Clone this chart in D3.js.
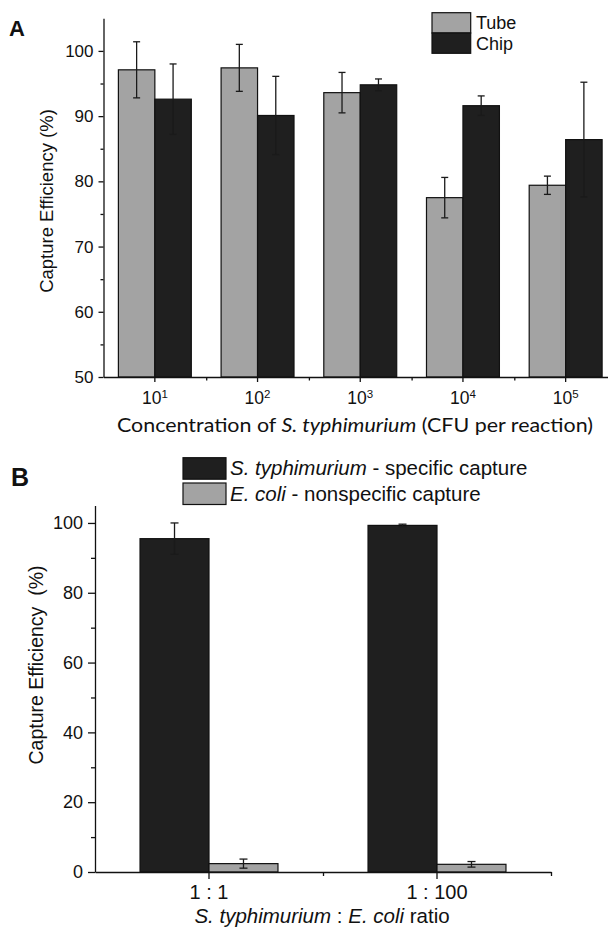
<!DOCTYPE html>
<html>
<head>
<meta charset="utf-8">
<script src="https://cdn.jsdelivr.net/npm/d3@7"></script>
<style>
  body { margin: 0; background: #fff; }
  svg text { fill: #111; }
</style>
</head>
<body>
<div id="chart"></div>
<script>
// ---------------- datos panel A ----------------
const exponents = ["1", "2", "3", "4", "5"];
const seriesA = ["Tube", "Chip"];
const tubeMean = [97.1, 97.4, 93.6, 77.5, 79.4];
const tubeErr = [4.3, 3.6, 3.1, 3.1, 1.4];
const chipMean = [92.6, 90.1, 94.8, 91.6, 86.4];
const chipErr = [5.4, 6.0, 0.9, 1.5, 8.8];
const ticksA = [50, 60, 70, 80, 90, 100];
const minorTicksA = [55, 65, 75, 85, 95];

// ---------------- datos panel B ----------------
const ratios = ["1 : 1", "1 : 100"];
const seriesB = ["S. typhimurium", "E. coli"];
const specificMean = [95.5, 99.3];
const specificErr = [4.5, 0.35];
const nonspecificMean = [2.4, 2.2];
const nonspecificErr = [1.3, 0.8];
const ticksB = [0, 20, 40, 60, 80, 100];
const minorTicksB = [10, 30, 50, 70, 90];

const GRAY = "#a3a3a3";
const DARK = "#1f1f1f";
const FONT = "'Liberation Sans', Arial, sans-serif";

const svg = d3.select("#chart")
    .append("svg")
    .attr("width", 608)
    .attr("height", 928)
    .style("font-family", FONT);

// dibuja barras de error
function errorBars(g, data, x, y, cap) {
    const eb = g.selectAll(null).data(data).enter().append("g")
        .attr("stroke", "#1a1a1a")
        .attr("stroke-width", 1.3);
    eb.append("line")
        .attr("x1", d => x(d)).attr("x2", d => x(d))
        .attr("y1", d => y(d.m - d.e)).attr("y2", d => y(d.m + d.e));
    eb.append("line")
        .attr("x1", d => x(d) - cap).attr("x2", d => x(d) + cap)
        .attr("y1", d => y(d.m + d.e)).attr("y2", d => y(d.m + d.e));
    eb.append("line")
        .attr("x1", d => x(d) - cap).attr("x2", d => x(d) + cap)
        .attr("y1", d => y(d.m - d.e)).attr("y2", d => y(d.m - d.e));
}

function styleAxis(g) {
    g.selectAll("path, line").attr("stroke", "#111").attr("stroke-width", 1.3);
    g.selectAll("text").attr("fill", "#111").style("font-family", FONT);
}

// ------------------------------------------ Panel A ------------------------------------------
(function panelA() {
    const x0 = d3.scaleBand().domain(exponents).range([103.5, 617]).paddingInner(0.29).paddingOuter(0.145);
    const x1 = d3.scaleBand().domain(seriesA).range([0, x0.bandwidth()]);
    const y = d3.scaleLinear().domain([50, 105]).range([377, 18.3]);
    const color = d3.scaleOrdinal().domain(seriesA).range([GRAY, DARK]);

    const data = [];
    exponents.forEach((c, i) => {
        data.push({ c: c, s: "Tube", m: tubeMean[i], e: tubeErr[i] });
        data.push({ c: c, s: "Chip", m: chipMean[i], e: chipErr[i] });
    });

    const g = svg.append("g");

    g.selectAll("rect.bar")
        .data(data)
        .enter().append("rect")
        .attr("class", "bar")
        .attr("x", d => x0(d.c) + x1(d.s))
        .attr("width", x1.bandwidth())
        .attr("y", d => y(d.m))
        .attr("height", d => y(50) - y(d.m))
        .attr("fill", d => color(d.s))
        .attr("stroke", "#111")
        .attr("stroke-width", 1.2);

    errorBars(g, data, d => x0(d.c) + x1(d.s) + x1.bandwidth() / 2, y, 3.5);

    // eje Y
    const yAxis = g.append("g")
        .attr("transform", "translate(103.5,0)")
        .call(d3.axisLeft(y).tickValues(ticksA).tickSize(5).tickPadding(5).tickSizeOuter(0));
    yAxis.selectAll("text").attr("font-size", 17);
    styleAxis(yAxis);
    const yMinor = g.append("g")
        .attr("transform", "translate(103.5,0)")
        .call(d3.axisLeft(y).tickValues(minorTicksA).tickSize(3).tickFormat(""));
    yMinor.select(".domain").remove();
    styleAxis(yMinor);

    // eje X
    const xAxis = g.append("g")
        .attr("transform", "translate(0," + y(50) + ")")
        .call(d3.axisBottom(x0).tickSize(5).tickPadding(10).tickSizeOuter(0));
    xAxis.selectAll("text")
        .attr("font-size", 17.5)
        .each(function(d) {
            const t = d3.select(this).text("10");
            t.append("tspan").attr("dy", "-0.55em").attr("font-size", 11.5).text(d);
        });
    styleAxis(xAxis);
    const xm = d3.scaleLinear().domain([0, 5]).range([103.5, 617]);
    const xMinor = g.append("g")
        .attr("transform", "translate(0," + y(50) + ")")
        .call(d3.axisBottom(xm).tickValues([1, 2, 3, 4]).tickSize(3.5).tickFormat(""));
    xMinor.select(".domain").remove();
    styleAxis(xMinor);

    // títulos
    g.append("text")
        .attr("transform", "translate(53," + 201 + ") rotate(-90)")
        .attr("text-anchor", "middle")
        .attr("font-size", 18.5)
        .text("Capture Efficiency (%)");

    const xt = g.append("text")
        .attr("x", 117).attr("y", 432)
        .attr("textLength", 476)
        .attr("lengthAdjust", "spacingAndGlyphs")
        .style("font-family", "Lato, 'Open Sans', sans-serif")
        .attr("font-size", 19.5);
    xt.append("tspan").text("Concentration of ");
    xt.append("tspan").attr("font-style", "italic").text("S. typhimurium");
    xt.append("tspan").text(" (CFU per reaction)");

    g.append("text")
        .attr("x", 9).attr("y", 36)
        .attr("font-size", 22).attr("font-weight", "bold")
        .text("A");

    // leyenda
    const leg = g.append("g").attr("transform", "translate(432,12.7)");
    seriesA.forEach((s, i) => {
        leg.append("rect")
            .attr("x", 0).attr("y", i * 20.3)
            .attr("width", 38.7).attr("height", 20.3)
            .attr("fill", color(s)).attr("stroke", "#111").attr("stroke-width", 1.2);
        leg.append("text")
            .attr("x", 44).attr("y", i * 20.5 + 16.5)
            .attr("font-size", 18)
            .text(s);
    });
})();

// ------------------------------------------ Panel B ------------------------------------------
(function panelB() {
    const x0 = d3.scaleBand().domain(ratios).range([95, 551]).paddingInner(0.395).paddingOuter(0.1975);
    const x1 = d3.scaleBand().domain(seriesB).range([0, x0.bandwidth()]);
    const y = d3.scaleLinear().domain([0, 105]).range([872, 505.5]);
    const color = d3.scaleOrdinal().domain(seriesB).range([DARK, GRAY]);

    const data = [];
    ratios.forEach((c, i) => {
        data.push({ c: c, s: "S. typhimurium", m: specificMean[i], e: specificErr[i] });
        data.push({ c: c, s: "E. coli", m: nonspecificMean[i], e: nonspecificErr[i] });
    });

    const g = svg.append("g");

    g.selectAll("rect.bar")
        .data(data)
        .enter().append("rect")
        .attr("class", "bar")
        .attr("x", d => x0(d.c) + x1(d.s))
        .attr("width", x1.bandwidth())
        .attr("y", d => y(d.m))
        .attr("height", d => y(0) - y(d.m))
        .attr("fill", d => color(d.s))
        .attr("stroke", "#111")
        .attr("stroke-width", 1.2);

    errorBars(g, data, d => x0(d.c) + x1(d.s) + x1.bandwidth() / 2, y, 4);

    // eje Y
    const yAxis = g.append("g")
        .attr("transform", "translate(95,0)")
        .call(d3.axisLeft(y).tickValues(ticksB).tickSize(7).tickPadding(5).tickSizeOuter(0));
    yAxis.selectAll("text").attr("font-size", 18);
    styleAxis(yAxis);
    const yMinor = g.append("g")
        .attr("transform", "translate(95,0)")
        .call(d3.axisLeft(y).tickValues(minorTicksB).tickSize(4).tickFormat(""));
    yMinor.select(".domain").remove();
    styleAxis(yMinor);

    // eje X
    const xAxis = g.append("g")
        .attr("transform", "translate(0," + y(0) + ")")
        .call(d3.axisBottom(x0).tickSize(7).tickPadding(6).tickSizeOuter(0));
    xAxis.selectAll("text").attr("font-size", 20);
    styleAxis(xAxis);
    const xm = d3.scaleLinear().domain([0, 2]).range([95, 551]);
    const xMinor = g.append("g")
        .attr("transform", "translate(0," + y(0) + ")")
        .call(d3.axisBottom(xm).tickValues([1, 2]).tickSize(4).tickFormat(""));
    xMinor.select(".domain").remove();
    styleAxis(xMinor);

    // títulos
    g.append("text")
        .attr("transform", "translate(43," + 665 + ") rotate(-90)")
        .attr("text-anchor", "middle")
        .attr("font-size", 19.5)
        .attr("xml:space", "preserve")
        .text("Capture Efficiency  (%)");

    const xt = g.append("text")
        .attr("x", 322).attr("y", 923)
        .attr("text-anchor", "middle")
        .attr("font-size", 20.5);
    xt.append("tspan").attr("font-style", "italic").text("S. typhimurium");
    xt.append("tspan").text(" : ");
    xt.append("tspan").attr("font-style", "italic").text("E. coli");
    xt.append("tspan").text(" ratio");

    g.append("text")
        .attr("x", 11).attr("y", 486)
        .attr("font-size", 25).attr("font-weight", "bold")
        .text("B");

    // leyenda
    const leg = g.append("g").attr("transform", "translate(183,457.7)");
    const legendRest = [" - specific capture", " - nonspecific capture"];
    seriesB.forEach((s, i) => {
        leg.append("rect")
            .attr("x", 0).attr("y", i * 25.3)
            .attr("width", 43).attr("height", 21.5)
            .attr("fill", color(s)).attr("stroke", "#111").attr("stroke-width", 1.2);
        const t = leg.append("text")
            .attr("x", 47).attr("y", i * 25.7 + 17.5)
            .attr("font-size", 20.5);
        t.append("tspan").attr("font-style", "italic").text(s);
        t.append("tspan").text(legendRest[i]);
    });
})();
</script>
</body>
</html>
